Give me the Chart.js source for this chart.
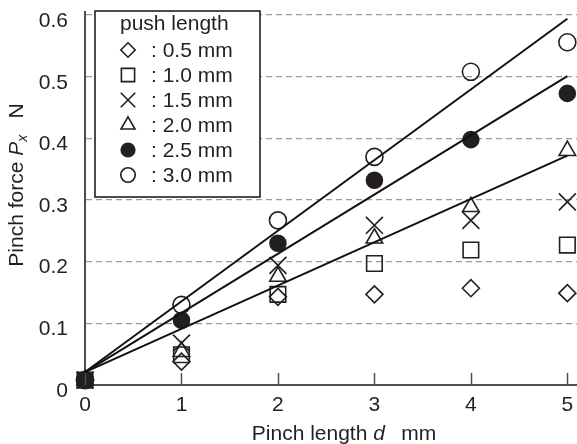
<!DOCTYPE html>
<html><head><meta charset="utf-8">
<script src="https://cdn.jsdelivr.net/npm/chart.js@4/dist/chart.umd.min.js"></script>
<style>html,body{margin:0;padding:0;background:#fff}</style>
</head><body>
<canvas id="c" width="577" height="444"></canvas>
<script>
// ---- data ----
const pinchLength = [0, 1, 2, 3, 4, 5];
const xTickValues = [0, 1, 2, 3, 4, 5];
const yTickValues = [0, 0.1, 0.2, 0.3, 0.4, 0.5, 0.6];
const push05 = [0.008, 0.038, 0.143, 0.147, 0.157, 0.149];
const push10 = [0.008, 0.049, 0.147, 0.197, 0.219, 0.227];
const push15 = [0.008, 0.068, 0.194, 0.259, 0.267, 0.297];
const push20 = [0.008, 0.054, 0.176, 0.238, 0.289, 0.380];
const push25 = [0.008, 0.105, 0.230, 0.332, 0.398, 0.473];
const push30 = [0.008, 0.130, 0.267, 0.370, 0.508, 0.556];
const fitX = [0, 5];
const fitTop = [0.021, 0.594];
const fitMid = [0.021, 0.501];
const fitLow = [0.021, 0.372];
const legendTitle = 'push length';
const legendLabels = [': 0.5 mm', ': 1.0 mm', ': 1.5 mm', ': 2.0 mm', ': 2.5 mm', ': 3.0 mm'];

const FONT = "Arial, 'Liberation Sans', Helvetica, sans-serif";
const INK = '#231f20';
const AXIS = '#4d4d4d';

const styles = [
  {style: 'rectRot', r: 8.5, fill: 'rgba(0,0,0,0)'},
  {style: 'rect', r: 11, fill: 'rgba(0,0,0,0)'},
  {style: 'crossRot', r: 12, fill: 'rgba(0,0,0,0)'},
  {style: 'triangle', r: 9.5, fill: 'rgba(0,0,0,0)'},
  {style: 'circle', r: 8, fill: INK},
  {style: 'circle', r: 8.5, fill: 'rgba(0,0,0,0)'}
];
const series = [push05, push10, push15, push20, push25, push30];

const toPts = (xs, ys) => xs.map((x, i) => ({x: x, y: ys[i]}));
const fitSet = ys => ({
  data: toPts(fitX, ys), showLine: true, borderColor: '#111', borderWidth: 2,
  pointRadius: 0, pointHoverRadius: 0, fill: false, clip: false
});
const datasets = [fitSet(fitTop), fitSet(fitMid), fitSet(fitLow)];
series.forEach((s, i) => {
  const st = styles[i];
  datasets.push({
    label: legendLabels[i], data: toPts(pinchLength, s), showLine: false,
    pointStyle: st.style, pointRadius: st.r, pointHoverRadius: st.r,
    pointBorderWidth: 1.6, pointBorderColor: INK, pointBackgroundColor: st.fill,
    clip: false
  });
});

const extras = {
  id: 'extras',
  afterDatasetsDraw(chart) {
    const ctx = chart.ctx;
    const xs = chart.scales.x, ys = chart.scales.y;
    const y0 = ys.getPixelForValue(0);
    // x tick marks pointing up
    ctx.save();
    ctx.strokeStyle = AXIS; ctx.lineWidth = 1.5;
    xTickValues.forEach(v => {
      const px = Math.round(xs.getPixelForValue(v)) + 0.5;
      ctx.beginPath(); ctx.moveTo(px, y0); ctx.lineTo(px, y0 - 12); ctx.stroke();
    });
    ctx.restore();
    // legend
    ctx.save();
    ctx.fillStyle = '#fff';
    ctx.fillRect(95, 11, 165, 186);
    ctx.strokeStyle = INK; ctx.lineWidth = 1.6;
    ctx.strokeRect(95, 11, 165, 186);
    ctx.fillStyle = INK;
    ctx.font = '21px ' + FONT;
    ctx.textBaseline = 'middle';
    ctx.textAlign = 'left';
    ctx.fillText(legendTitle, 120, 24);
    legendLabels.forEach((lab, i) => {
      const cy = 50 + 25 * i;
      const st = styles[i];
      ctx.save();
      ctx.strokeStyle = INK; ctx.fillStyle = st.fill; ctx.lineWidth = 1.6;
      Chart.helpers.drawPoint(ctx, {pointStyle: st.style, radius: st.r * 0.85, rotation: 0, borderWidth: 1.6}, 128, cy);
      ctx.restore();
      ctx.fillStyle = INK;
      ctx.fillText(lab, 151, cy + 1);
    });
    ctx.restore();
  },
  afterDraw(chart) {
    const ctx = chart.ctx;
    const parts = (arr) => arr.reduce((w, p) => { ctx.font = p.f; return w + ctx.measureText(p.t).width; }, 0);
    const norm = '21px ' + FONT, ital = 'italic 21px ' + FONT, sub = 'italic 14px ' + FONT;
    ctx.save();
    ctx.fillStyle = INK;
    ctx.textBaseline = 'alphabetic';
    ctx.textAlign = 'left';
    // x title
    const xp = [{t: 'Pinch length ', f: norm}, {t: 'd', f: ital}, {t: '\u2002 mm', f: norm}];
    let w = parts(xp);
    let x = 344 - w / 2;
    xp.forEach(p => { ctx.font = p.f; ctx.fillText(p.t, x, 440); x += ctx.measureText(p.t).width; });
    // y title
    const yp = [{t: 'Pinch force ', f: norm, dy: 0}, {t: 'P', f: ital, dy: 0}, {t: 'x', f: sub, dy: 4}, {t: '\u2002 N', f: norm, dy: 0}];
    w = parts(yp);
    ctx.translate(23, 185);
    ctx.rotate(-Math.PI / 2);
    x = -w / 2;
    yp.forEach(p => { ctx.font = p.f; ctx.fillText(p.t, x, p.dy); x += ctx.measureText(p.t).width; });
    ctx.restore();
  }
};

new Chart(document.getElementById('c'), {
  type: 'scatter',
  data: {datasets: datasets},
  options: {
    responsive: false, animation: false, events: [],
    layout: {autoPadding: false, padding: {top: 12, right: 0, left: 0, bottom: 0}},
    plugins: {legend: {display: false}, tooltip: {enabled: false}},
    scales: {
      x: {
        type: 'linear', min: 0, max: 5.1,
        afterBuildTicks: s => { s.ticks = xTickValues.map(v => ({value: v})); },
        afterFit: s => { s.height = 59; s.paddingLeft = 0; s.paddingRight = 0; },
        grid: {display: false, drawTicks: false},
        border: {display: true, color: AXIS, width: 2},
        ticks: {padding: 8, color: INK, font: {family: FONT, size: 21}, maxRotation: 0, autoSkip: false,
                callback: v => String(v)}
      },
      y: {
        type: 'linear', min: 0, max: 0.605,
        afterBuildTicks: s => { s.ticks = yTickValues.map(v => ({value: v})); },
        afterFit: s => { s.width = 85; s.paddingTop = 0; s.paddingBottom = 0; },
        grid: {drawTicks: false, lineWidth: 1.2,
               color: c => (c.tick && c.tick.value === 0) ? 'rgba(0,0,0,0)' : '#9a9a9a'},
        border: {display: true, color: AXIS, width: 2, dash: [6, 4]},
        ticks: {padding: 17, labelOffset: 6, color: INK, font: {family: FONT, size: 21},
                callback: v => v === 0 ? '0' : v.toFixed(1)}
      }
    }
  },
  plugins: [extras]
});
</script>
</body></html>
